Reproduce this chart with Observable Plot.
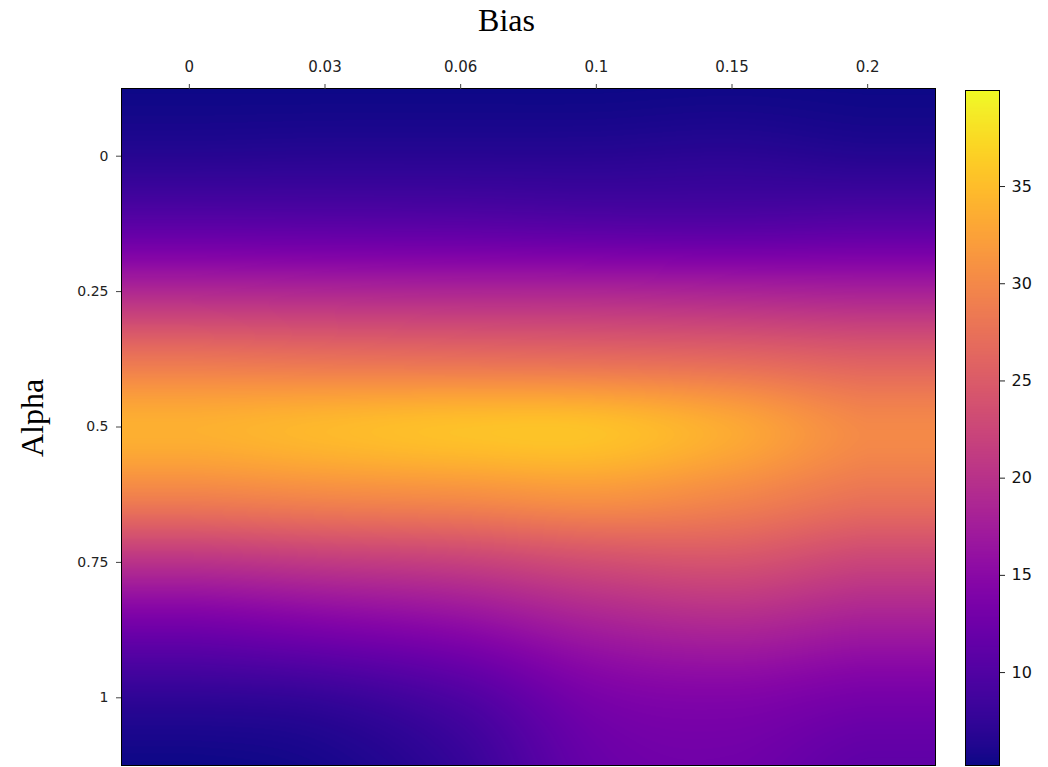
<!DOCTYPE html>
<html>
<head>
<meta charset="utf-8">
<script src="https://cdn.jsdelivr.net/npm/d3@7"></script>
<script src="https://cdn.jsdelivr.net/npm/@observablehq/plot@0.6"></script>
<style>
  html, body { margin: 0; padding: 0; background: white; }
  #wrap { position: relative; width: 1048px; height: 767px; overflow: hidden; }
  #wrap svg { position: absolute; top: 0; }
</style>
</head>
<body>
<div id="wrap"></div>
<script>
// ---- data ----
const biasLabels = ["0", "0.03", "0.06", "0.1", "0.15", "0.2"];   // x categories (columns)
const alphaTicks = [0, 0.25, 0.5, 0.75, 1];                          // y tick values
// alpha levels at which the heat values were read (rows)
const alphaSamples = [-0.125, 0, 0.125, 0.25, 0.375, 0.5, 0.625, 0.75, 0.875, 1, 1.125];
// values read per row (one entry per bias column)
const rowM0125 = [5.3, 5.3, 5.3, 5.3, 5.4, 5.3];
const row0     = [6.7, 6.8, 6.8, 6.8, 7.0, 6.6];
const row0125  = [10.8, 10.7, 10.6, 10.3, 10.2, 10.5];
const row025   = [18.9, 18.7, 18.6, 18.6, 18.3, 18.0];
const row0375  = [28.0, 27.6, 27.3, 27.0, 26.5, 25.5];
const row05    = [33.8, 34.6, 35.3, 35.3, 33.2, 30.0];
const row0625  = [29.4, 30.1, 30.6, 31.3, 29.9, 27.8];
const row075   = [20.1, 21.0, 21.8, 23.4, 24.0, 22.3];
const row0875  = [12.5, 13.6, 15.0, 17.5, 18.5, 17.3];
const row1     = [7.3, 7.8, 9.8, 13.5, 14.2, 13.2];
const row1125  = [5.3, 5.8, 7.8, 12.0, 12.7, 11.2];
const scores = [rowM0125, row0, row0125, row025, row0375, row05, row0625, row075, row0875, row1, row1125];
const colorDomain = [5.22, 39.94];
const colorbarTicks = [10, 15, 20, 25, 30, 35];

// ---- smooth (bicubic) sampling of the read grid, used by the raster mark ----
const nRow = scores.length, nCol = biasLabels.length;
const rowIndex = d3.scaleLinear(alphaSamples, d3.range(nRow));
function cubic(p0, p1, p2, p3, t) {
  return p1 + 0.5 * t * (p2 - p0 + t * (2 * p0 - 5 * p1 + 4 * p2 - p3 + t * (3 * (p1 - p2) + p3 - p0)));
}
const clampI = (i, n) => Math.max(0, Math.min(n - 1, i));
function sample(ci, ri) {
  const c = Math.max(0, Math.min(nCol - 1, ci));
  const r = Math.max(0, Math.min(nRow - 1, ri));
  const c0 = Math.min(Math.floor(c), nCol - 2), tc = c - c0;
  const r0 = Math.min(Math.floor(r), nRow - 2), tr = r - r0;
  const rows = [];
  for (let j = -1; j <= 2; j++) {
    const R = scores[clampI(r0 + j, nRow)];
    rows.push(cubic(R[clampI(c0 - 1, nCol)], R[clampI(c0, nCol)], R[clampI(c0 + 1, nCol)], R[clampI(c0 + 2, nCol)], tc));
  }
  return cubic(rows[0], rows[1], rows[2], rows[3], tr);
}

const wrap = document.getElementById("wrap");

const main = Plot.plot({
  width: 1048,
  height: 767,
  marginLeft: 121,
  marginRight: 113,
  marginTop: 88,
  marginBottom: 2,
  style: { fontFamily: "DejaVu Sans", fontSize: "14px", color: "#222", background: "transparent" },
  x: { type: "linear", domain: [-0.5, nCol - 0.5] },
  y: { type: "linear", domain: [alphaSamples[0], alphaSamples[nRow - 1]], reverse: true },
  color: { type: "linear", scheme: "plasma", domain: colorDomain, clamp: true },
  marks: [
    Plot.raster({
      fill: (x, y) => sample(x, rowIndex(y)),
      x1: -0.5, x2: nCol - 0.5,
      y1: alphaSamples[0], y2: alphaSamples[nRow - 1],
      pixelSize: 1
    }),
    Plot.frame({ stroke: "black", strokeWidth: 1 }),
    Plot.axisX(d3.range(nCol), {
      anchor: "top", tickSize: 5, tickPadding: 12, label: null, fontSize: 15,
      tickFormat: i => biasLabels[i], stroke: "#444", fill: "#222"
    }),
    Plot.axisY(alphaTicks, {
      anchor: "left", tickSize: 5, tickPadding: 8, label: null, fontSize: 14,
      tickFormat: d => String(d), stroke: "#444", fill: "#222"
    }),
    Plot.text(["Bias"], {
      frameAnchor: "top", dx: -22, dy: -58, lineAnchor: "bottom",
      fontFamily: "Liberation Serif", fontSize: 32, fill: "black"
    }),
    Plot.text(["Alpha"], {
      frameAnchor: "left", dx: -89, dy: -9, rotate: -90, lineAnchor: "middle", textAnchor: "middle",
      fontFamily: "Liberation Serif", fontSize: 32, fill: "black"
    })
  ]
});
main.style.left = "0px";
wrap.appendChild(main);

const bar = Plot.plot({
  width: 83,
  height: 767,
  marginLeft: 0,
  marginRight: 49,
  marginTop: 90,
  marginBottom: 2,
  style: { fontFamily: "DejaVu Sans", fontSize: "16px", color: "#111", background: "transparent" },
  x: { type: "linear", domain: [0, 1], axis: null },
  y: { type: "linear", domain: colorDomain, axis: null },
  color: { type: "linear", scheme: "plasma", domain: colorDomain, clamp: true },
  marks: [
    Plot.raster({ fill: (x, y) => y, x1: 0, x2: 1, y1: colorDomain[0], y2: colorDomain[1], pixelSize: 1 }),
    Plot.frame({ stroke: "black", strokeWidth: 1 }),
    Plot.axisY(colorbarTicks, { anchor: "right", tickSize: 5, tickPadding: 7, label: null, fontSize: 16, stroke: "#222", fill: "#111" })
  ]
});
bar.style.left = "965px";
wrap.appendChild(bar);
</script>
</body>
</html>
